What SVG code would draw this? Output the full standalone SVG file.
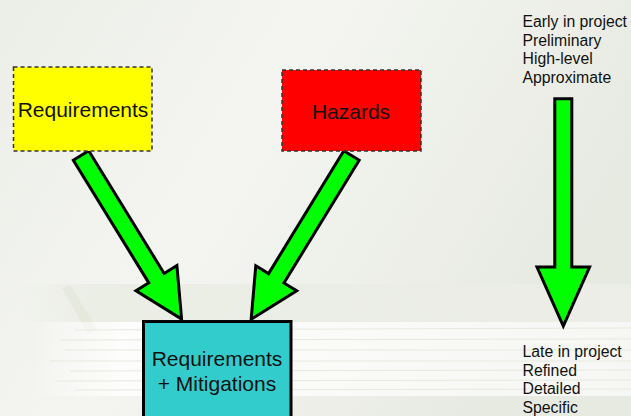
<svg xmlns="http://www.w3.org/2000/svg" width="631" height="416" viewBox="0 0 631 416">
  <defs>
    <linearGradient id="bg" x1="0" y1="0" x2="1" y2="0.4">
      <stop offset="0" stop-color="#ECEEE8"/>
      <stop offset="0.45" stop-color="#F4F5F1"/>
      <stop offset="1" stop-color="#E7EAE1"/>
    </linearGradient>
    <linearGradient id="band" x1="0" y1="0" x2="1" y2="0">
      <stop offset="0" stop-color="#E9ECE2" stop-opacity="0"/>
      <stop offset="0.12" stop-color="#E9ECE2" stop-opacity="0.8"/>
      <stop offset="1" stop-color="#ECEEE7" stop-opacity="0.9"/>
    </linearGradient>
    <linearGradient id="sheets" x1="0" y1="0" x2="1" y2="0">
      <stop offset="0" stop-color="#FFFFFF" stop-opacity="0"/>
      <stop offset="0.15" stop-color="#FFFFFF" stop-opacity="0.8"/>
      <stop offset="1" stop-color="#FFFFFF" stop-opacity="0.65"/>
    </linearGradient>
    <style>
      .box-text { font-family: "Liberation Sans", Arial, sans-serif; font-size: 21px; fill: #111; text-anchor: middle; }
      .side-text { font-family: "Liberation Sans", Arial, sans-serif; font-size: 15.8px; fill: #111; }
      .dashed { stroke: #333; stroke-width: 1.5; stroke-dasharray: 4 3; }
      .arrow { fill: #00FF00; stroke: #000; stroke-width: 3; stroke-linejoin: miter; }
      .edge { stroke: #E6E9DE; stroke-width: 1; }
    </style>
    <!-- fat block arrow pointing along +x, length 192 -->
    <path id="blockArrow" d="M0,-9 L144,-9 L144,-24 L192,0 L144,24 L144,9 L0,9 Z"/>
  </defs>

  <!-- backdrop -->
  <rect x="0" y="0" width="631" height="416" fill="url(#bg)"/>

  <!-- faint stack of papers behind the lower half -->
  <g>
    <rect x="20" y="284" width="611" height="38" fill="url(#band)"/>
    <polygon points="62,288 70,285 98,330 88,334" fill="#E0E4D4" opacity="0.55"/>
    <rect x="30" y="322" width="601" height="74" fill="url(#sheets)"/>
    <line class="edge" x1="75" y1="330" x2="631" y2="328"/>
    <line class="edge" x1="60" y1="340" x2="631" y2="339"/>
    <line class="edge" x1="65" y1="350" x2="631" y2="350"/>
    <line class="edge" x1="50" y1="361" x2="631" y2="361"/>
    <line class="edge" x1="70" y1="371" x2="631" y2="370"/>
    <line class="edge" x1="55" y1="381" x2="631" y2="380"/>
    <line class="edge" x1="75" y1="390" x2="631" y2="389"/>
  </g>

  <!-- connectors -->
  <g id="connectors">
    <use href="#blockArrow" class="arrow" transform="translate(81,155.5) rotate(58.4)"/>
    <use href="#blockArrow" class="arrow" transform="translate(351.5,155.5) rotate(121.5)"/>
    <!-- timeline arrow -->
    <path class="arrow" d="M554.8,98.8 L571.8,98.8 L571.8,267 L589.6,267 L563.3,326 L537,267 L554.8,267 Z"/>
  </g>

  <g id="requirements">
    <rect x="13.5" y="67" width="138.5" height="84" fill="#FFFF00" class="dashed"/>
    <text class="box-text" x="83" y="117">Requirements</text>
  </g>

  <g id="hazards">
    <rect x="282" y="70" width="139" height="81" fill="#FF0000" class="dashed"/>
    <text class="box-text" x="351" y="119">Hazards</text>
  </g>

  <g id="requirements-mitigations">
    <rect x="143.5" y="321.5" width="147.5" height="100" fill="#33CCCC" stroke="#000" stroke-width="3"/>
    <text class="box-text" x="217" y="366">Requirements</text>
    <text class="box-text" x="217" y="391">+ Mitigations</text>
  </g>

  <g id="early-label">
    <text class="side-text" x="522.5" y="27">Early in project</text>
    <text class="side-text" x="522.5" y="45.7">Preliminary</text>
    <text class="side-text" x="522.5" y="64.4">High-level</text>
    <text class="side-text" x="522.5" y="83.1">Approximate</text>
  </g>

  <g id="late-label">
    <text class="side-text" x="522.5" y="357">Late in project</text>
    <text class="side-text" x="522.5" y="375.7">Refined</text>
    <text class="side-text" x="522.5" y="394.4">Detailed</text>
    <text class="side-text" x="522.5" y="413.1">Specific</text>
  </g>
</svg>
